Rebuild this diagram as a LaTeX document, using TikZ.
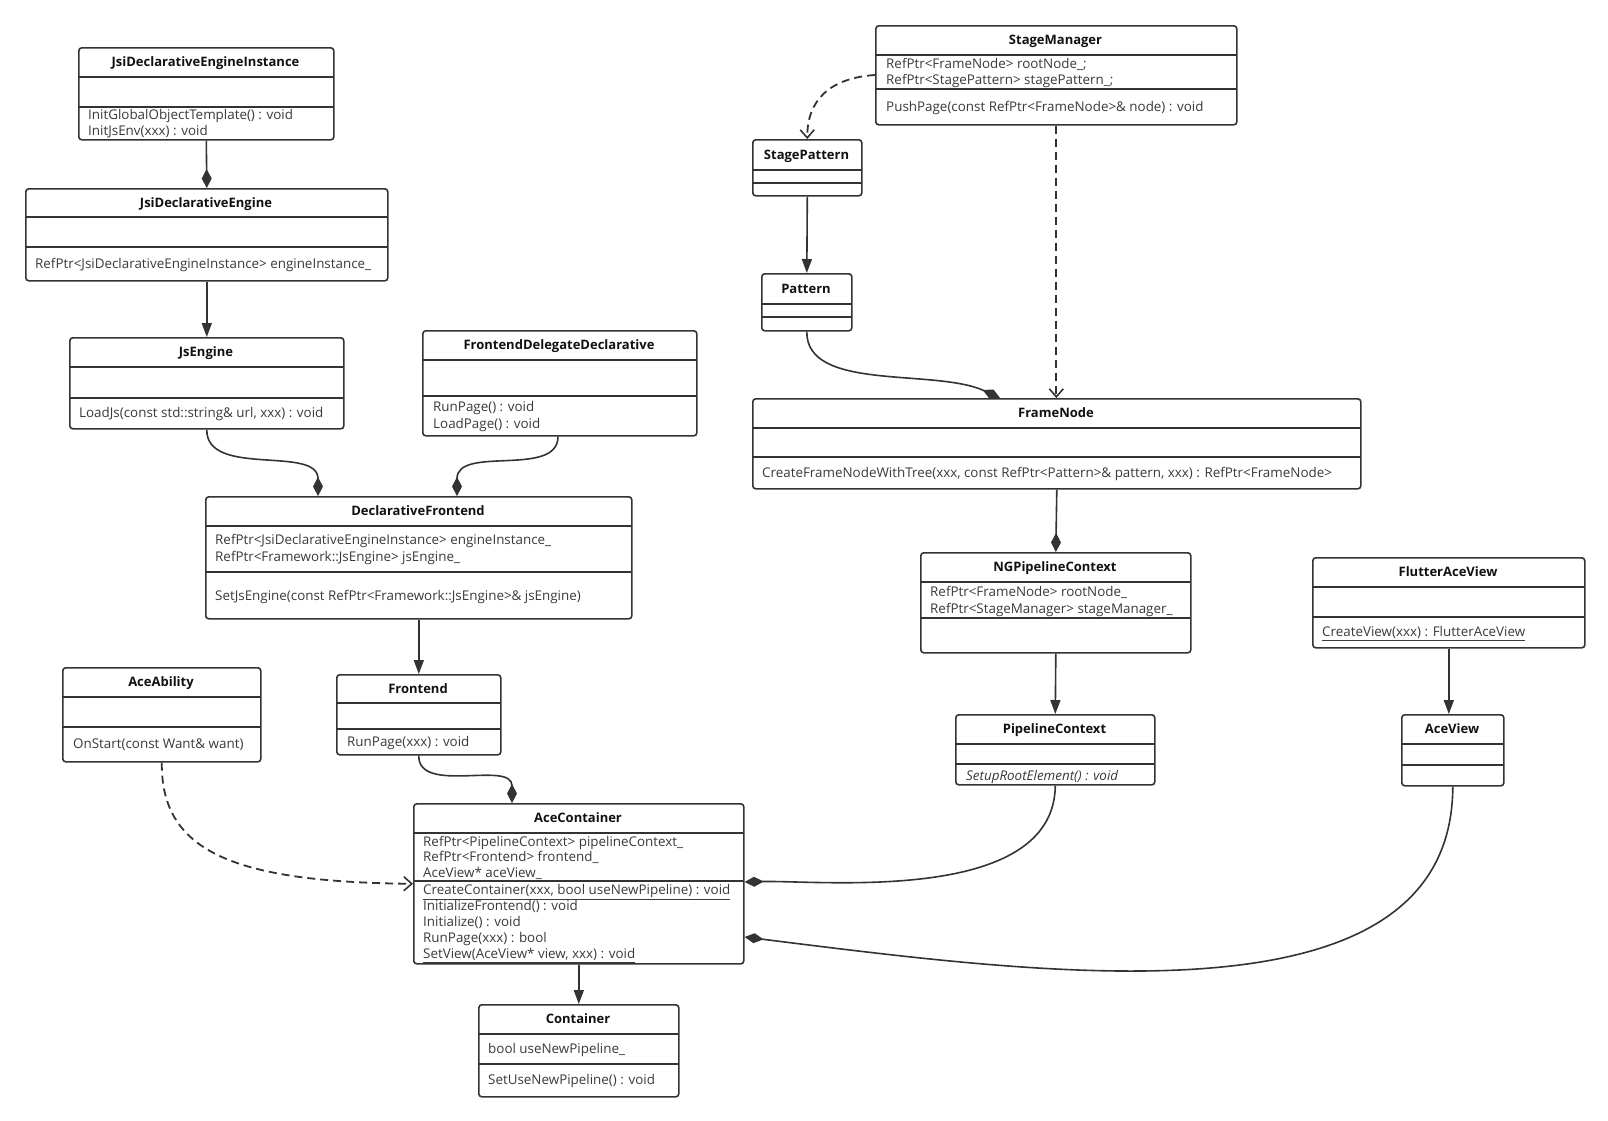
\documentclass[tikz,border=0pt]{standalone}
\usepackage{fontspec}
\setmainfont{Open Sans}
\usetikzlibrary{arrows.meta,calc}
\definecolor{ln}{HTML}{333333}
\definecolor{tx}{HTML}{3A3A3A}
\definecolor{tt}{HTML}{111111}
\tikzset{
 classbox/.style={draw=ln, line width=1.6pt, rounded corners=3pt, fill=white, inner sep=0pt},
 sepline/.style={draw=ln, line width=1.6pt},
 ctitle/.style={font=\fontsize{13}{15}\selectfont\bfseries, text=tt, inner sep=0pt, anchor=base},
 mtext/.style={font=\fontsize{13.4}{15}\selectfont, text=tx, inner sep=0pt, anchor=base west},
 conn/.style={draw=ln, line width=1.6pt},
 comp/.style={conn, -{Diamond[length=19pt,width=10pt]}},
 assoc/.style={conn, -{Triangle[length=14pt,width=10pt]}},
 dep/.style={conn, line width=1.8pt, dash pattern=on 8pt off 5pt, -{Straight Barb[length=8pt,width=14pt,line width=1.6pt]}},
}
\newcommand\umlclass[8]{%
  \pgfmathsetmacro\umlW{#4-#2}\pgfmathsetmacro\umlH{#5-#3}%
  \node[classbox, minimum width=\umlW pt, minimum height=\umlH pt, anchor=north west] (#1) at (#2,#3) {};
  \draw[sepline] (#2,#6) -- (#4,#6);
  \draw[sepline] (#2,#7) -- (#4,#7);
  \pgfmathsetmacro\umlTX{(#2+#4)/2}\pgfmathsetmacro\umlTY{(#3+#6)/2+4.7}%
  \node[ctitle] (#1-t) at (\umlTX,\umlTY) {#8};
}
\newcommand\mline[4]{\node[mtext] (#1) at (#2,{#3+4.7}) {#4};}
\begin{document}
\begin{tikzpicture}[x=1pt,y=-1pt]
\fill[white] (0,0) rectangle (1608,1120);
\useasboundingbox (0,0) rectangle (1608,1120);

\umlclass{jdei}{78}{47}{333}{139}{77}{107}{JsiDeclarativeEngineInstance}
\mline{jdei-m1}{88}{115}{InitGlobalObjectTemplate() : void}
\mline{jdei-m2}{88}{131}{InitJsEnv(xxx) : void}

\umlclass{jde}{25}{188}{387}{280}{217}{247}{JsiDeclarativeEngine}
\mline{jde-m1}{35}{264}{RefPtr<JsiDeclarativeEngineInstance> engineInstance\_}

\umlclass{jse}{69}{337}{343}{428}{367}{398}{JsEngine}
\mline{jse-m1}{79}{413}{LoadJs(const std::string\& url, xxx) : void}

\umlclass{fdd}{422}{330}{696}{435}{360}{396}{FrontendDelegateDeclarative}
\mline{fdd-m1}{433}{407}{RunPage() : void}
\mline{fdd-m2}{433}{424}{LoadPage() : void}

\umlclass{df}{205}{496}{631}{618}{526}{572}{DeclarativeFrontend}
\mline{df-a1}{215}{540}{RefPtr<JsiDeclarativeEngineInstance> engineInstance\_}
\mline{df-a2}{215}{557}{RefPtr<Framework::JsEngine> jsEngine\_}
\mline{df-m1}{215}{596}{SetJsEngine(const RefPtr<Framework::JsEngine>\& jsEngine)}

\umlclass{fe}{336}{674}{500}{754}{703}{729}{Frontend}
\mline{fe-m1}{347}{742}{RunPage(xxx) : void}

\umlclass{aa}{62}{667}{260}{761}{697}{727}{AceAbility}
\mline{aa-m1}{73}{744}{OnStart(const Want\& want)}

\umlclass{ac}{413}{803}{743}{963}{833}{881}{AceContainer}
\mline{ac-a1}{423}{842}{RefPtr<PipelineContext> pipelineContext\_}
\mline{ac-a2}{423}{857}{RefPtr<Frontend> frontend\_}
\mline{ac-a3}{423}{873}{AceView* aceView\_}
\mline{ac-m1}{423}{890}{\underline{CreateContainer(xxx, bool useNewPipeline) : void}}
\mline{ac-m2}{423}{906}{InitializeFrontend() : void}
\mline{ac-m3}{423}{922}{Initialize() : void}
\mline{ac-m4}{423}{938}{RunPage(xxx) : bool}
\mline{ac-m5}{423}{954}{\underline{SetView(AceView* view, xxx) : void}}

\umlclass{ct}{478}{1004}{678}{1096}{1034}{1064}{Container}
\mline{ct-a1}{488}{1049}{bool useNewPipeline\_}
\mline{ct-m1}{488}{1080}{SetUseNewPipeline() : void}

\umlclass{sm}{875}{25}{1236}{124}{55}{89}{StageManager}
\mline{sm-a1}{886}{64}{RefPtr<FrameNode> rootNode\_;}
\mline{sm-a2}{886}{80}{RefPtr<StagePattern> stagePattern\_;}
\mline{sm-m1}{886}{107}{PushPage(const RefPtr<FrameNode>\& node) : void}

\umlclass{sp}{752}{139}{861}{195}{170}{183}{StagePattern}
\umlclass{pt}{761}{273}{851}{330}{304}{317}{Pattern}

\umlclass{fn}{752}{398}{1360}{488}{428}{457}{FrameNode}
\mline{fn-m1}{762}{473}{CreateFrameNodeWithTree(xxx, const RefPtr<Pattern>\& pattern, xxx) : RefPtr<FrameNode>}

\umlclass{ng}{920}{552}{1190}{652}{582}{618}{NGPipelineContext}
\mline{ng-a1}{930}{592}{RefPtr<FrameNode> rootNode\_}
\mline{ng-a2}{930}{609}{RefPtr<StageManager> stageManager\_}

\umlclass{pc}{955}{714}{1154}{784}{744}{764}{PipelineContext}
\mline{pc-m1}{966}{776}{\textit{SetupRootElement() : void}}

\umlclass{fav}{1312}{557}{1584}{647}{587}{617}{FlutterAceView}
\mline{fav-m1}{1322}{632}{\underline{CreateView(xxx) : FlutterAceView}}

\umlclass{av}{1401}{714}{1503}{785}{744}{765}{AceView}

% connectors
\draw[comp] (jdei.south) -- (jde.north);
\draw[assoc] (jde.south) -- (jse.north);
\draw[comp] (jse.south) .. controls (206,478) and (318,445) .. (318,0 |- df.north);
\draw[comp] (558,0 |- fdd.south) .. controls (558,478) and (457,445) .. (457,0 |- df.north);
\draw[assoc] (df.south) -- (fe.north);
\draw[comp] (fe.south) .. controls (418,795) and (512,760) .. (512,0 |- ac.north);
\draw[dep] (aa.south) .. controls (161,850) and (230,882) .. (ac.west);
\draw[assoc] (ac.south) -- (ct.north);
\draw[dep] (sm.west |- 0,75) .. controls (830,78) and (807,100) .. (sp.north);
\draw[dep] (sm.south) -- (sm.south |- fn.north);
\draw[assoc] (sp.south) -- (pt.north);
\draw[comp] (pt.south) .. controls (806,392) and (935,368) .. (1000,0 |- fn.north);
\draw[comp] (fn.south) -- (ng.north);
\draw[assoc] (ng.south) -- (pc.north);
\draw[comp] (pc.south) .. controls (1054,905) and (820,880) .. (ac.east |- 0,882);
\draw[assoc] (fav.south) -- (fav.south |- av.north);
\draw[comp] (av.south) .. controls (1452,1030) and (1050,975) .. (ac.east |- 0,937);
\end{tikzpicture}
\end{document}
